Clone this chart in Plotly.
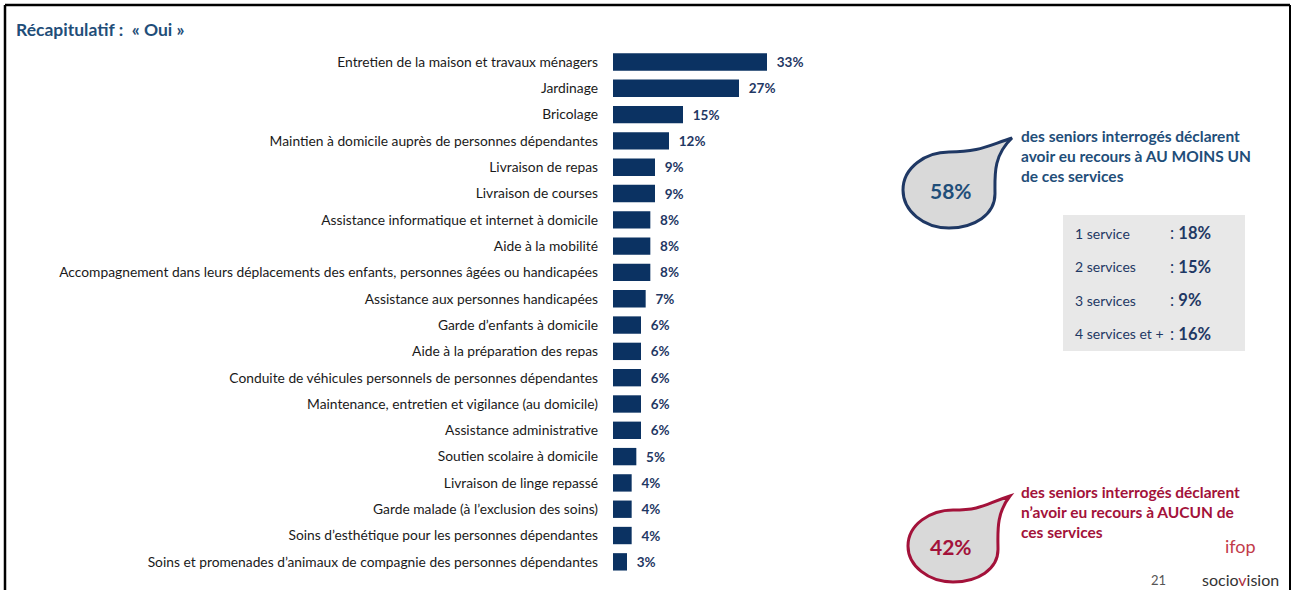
import plotly.graph_objects as go

W, H = 1294, 590

categories = [
    "Entretien de la maison et travaux ménagers",
    "Jardinage",
    "Bricolage",
    "Maintien à domicile auprès de personnes dépendantes",
    "Livraison de repas",
    "Livraison de courses",
    "Assistance informatique et internet à domicile",
    "Aide à la mobilité",
    "Accompagnement dans leurs déplacements des enfants, personnes âgées ou handicapées",
    "Assistance aux personnes handicapées",
    "Garde d’enfants à domicile",
    "Aide à la préparation des repas",
    "Conduite de véhicules personnels de personnes dépendantes",
    "Maintenance, entretien et vigilance (au domicile)",
    "Assistance administrative",
    "Soutien scolaire à domicile",
    "Livraison de linge repassé",
    "Garde malade (à l’exclusion des soins)",
    "Soins d’esthétique pour les personnes dépendantes",
    "Soins et promenades d’animaux de compagnie des personnes dépendantes",
]
values = [33, 27, 15, 12, 9, 9, 8, 8, 8, 7, 6, 6, 6, 6, 6, 5, 4, 4, 4, 3]

count_labels = ["1 service", "2 services", "3 services", "4 services et +"]
count_values = [18, 15, 9, 16]

share_any = 58
share_none = 42

NAVY = "#0b3262"
TEXT_BLUE = "#1f4e79"
RED = "#a3123a"
FONT = "Lato, 'Open Sans', sans-serif"


def px(x):
    return x / W


def py(y):
    return 1 - y / H


def droplet(cx, cy, rx, ry, tip):
    tx, ty = tip
    pts = [
        ("M", [(tx, ty)]),
        ("C", [(cx + rx * 0.95, cy - ry * 0.9), (cx + rx, cy - ry * 0.35), (cx + rx, cy + ry * 0.1)]),
        ("C", [(cx + rx, cy + ry * 0.65), (cx + rx * 0.55, cy + ry), (cx, cy + ry)]),
        ("C", [(cx - rx * 0.55, cy + ry), (cx - rx, cy + ry * 0.55), (cx - rx, cy)]),
        ("C", [(cx - rx, cy - ry * 0.6), (cx - rx * 0.5, cy - ry), (cx, cy - ry)]),
        ("C", [(cx + rx * 0.65, cy - ry), (tx - 25, ty + 8), (tx, ty)]),
    ]
    out = []
    for cmd, ps in pts:
        out.append(cmd + " " + " ".join(f"{px(x):.5f},{py(y):.5f}" for x, y in ps))
    return " ".join(out) + " Z"


fig = go.Figure()

fig.add_trace(
    go.Bar(
        x=values,
        y=categories,
        orientation="h",
        width=0.66,
        marker=dict(color=NAVY, line=dict(width=0)),
        # en space: the slide leaves a wider gap between bar end and label
        text=[f"\u2002{v}%" for v in values],
        textposition="outside",
        textfont=dict(family=FONT, size=13.5, color="#1f3864", weight="bold"),
        cliponaxis=False,
        hovertemplate="%{y}: %{x}%<extra></extra>",
    )
)

shapes = [
    # slide frame
    dict(type="line", xref="paper", yref="paper", x0=px(5), x1=px(1290), y0=py(5), y1=py(5),
         line=dict(color="black", width=2.5)),
    dict(type="line", xref="paper", yref="paper", x0=px(5), x1=px(5), y0=py(5), y1=py(592),
         line=dict(color="black", width=2.5)),
    dict(type="line", xref="paper", yref="paper", x0=px(1290), x1=px(1290), y0=py(5), y1=py(592),
         line=dict(color="black", width=2)),
    # grey box
    dict(type="rect", xref="paper", yref="paper", x0=px(1063), x1=px(1245), y0=py(215), y1=py(351),
         fillcolor="#e8e8e8", line=dict(width=0), layer="below"),
    # droplets
    dict(type="path", xref="paper", yref="paper", path=droplet(949, 190, 46, 38, (1012, 138)),
         fillcolor="#d9d9d9", line=dict(color="#1f3864", width=3)),
    dict(type="path", xref="paper", yref="paper", path=droplet(953, 546, 45, 36, (1010, 496)),
         fillcolor="#d9d9d9", line=dict(color=RED, width=3)),
]

annotations = [
    dict(text="Récapitulatif :  « Oui »", x=px(14), y=py(30), xanchor="left", yanchor="middle",
         font=dict(family=FONT, size=17.5, color=TEXT_BLUE, weight="bold")),
    dict(text=f"{share_any}%", x=px(951), y=py(190), xanchor="center", yanchor="middle",
         font=dict(family=FONT, size=21, color=TEXT_BLUE, weight="bold")),
    dict(text=f"{share_none}%", x=px(951), y=py(546), xanchor="center", yanchor="middle",
         font=dict(family=FONT, size=21, color=RED, weight="bold")),
    dict(text="des seniors interrogés déclarent<br>avoir eu recours à AU MOINS UN<br>de ces services",
         x=px(1019), y=py(125), xanchor="left", yanchor="top", align="left",
         font=dict(family=FONT, size=15.5, color=TEXT_BLUE, weight="bold")),
    dict(text="des seniors interrogés déclarent<br>n’avoir eu recours à AUCUN de<br>ces services",
         x=px(1019), y=py(481), xanchor="left", yanchor="top", align="left",
         font=dict(family=FONT, size=15.5, color=RED, weight="bold")),
    dict(text="21", x=px(1158), y=py(580), xanchor="center", yanchor="middle",
         font=dict(family=FONT, size=13, color="#555555")),
    dict(text="socio<span style='color:#b03040'>v</span>ision", x=px(1240), y=py(579),
         xanchor="center", yanchor="middle",
         font=dict(family=FONT, size=16, color="#333333")),
    dict(text="ifop", x=px(1240), y=py(546), xanchor="center", yanchor="middle",
         font=dict(family=FONT, size=18, color="#c23b4a")),
]

for i, (lab, val) in enumerate(zip(count_labels, count_values)):
    yy = 233 + i * 33.5
    annotations.append(dict(text=lab, x=px(1073), y=py(yy), xanchor="left", yanchor="middle",
                            font=dict(family=FONT, size=14, color="#1f3864")))
    annotations.append(dict(text=f": <b>{val}%</b>", x=px(1168), y=py(yy), xanchor="left",
                            yanchor="middle", font=dict(family=FONT, size=16.5, color="#1f3864")))

for a in annotations:
    a.update(xref="paper", yref="paper", showarrow=False)

fig.update_layout(
    width=W,
    height=H,
    margin=dict(l=0, r=0, t=0, b=0),
    plot_bgcolor="white",
    paper_bgcolor="white",
    showlegend=False,
    bargap=0.3,
    xaxis=dict(domain=[px(613), px(893)], range=[0, 60], visible=False),
    yaxis=dict(
        domain=[py(575), py(48.8)],
        autorange="reversed",
        showgrid=False,
        zeroline=False,
        showline=False,
        ticks="",
        ticklabelstandoff=14,
        tickfont=dict(family=FONT, size=13.8, color="#1a1a1a"),
    ),
    shapes=shapes,
    annotations=annotations,
)

# the page's default body margin would push the slide 8px down and right
fig.write_html(
    "out.html",
    config={"displayModeBar": False},
    post_script="document.body.style.margin='0';",
)
